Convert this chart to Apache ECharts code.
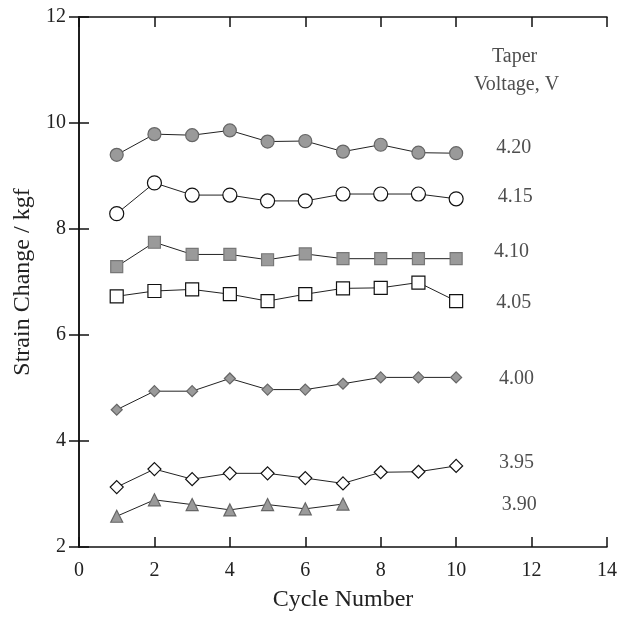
<!DOCTYPE html>
<html>
<head>
<meta charset="utf-8">
<script src="https://cdn.jsdelivr.net/npm/echarts@6/dist/echarts.min.js"></script>
<style>html,body{margin:0;padding:0;background:#fff}#c{width:623px;height:617px}</style>
</head>
<body>
<div id="c"></div>
<script>
const cycles = [1, 2, 3, 4, 5, 6, 7, 8, 9, 10];
const v420 = [9.40, 9.79, 9.77, 9.86, 9.65, 9.66, 9.46, 9.59, 9.44, 9.43];
const v415 = [8.29, 8.87, 8.64, 8.64, 8.53, 8.53, 8.66, 8.66, 8.66, 8.57];
const v410 = [7.29, 7.75, 7.52, 7.52, 7.42, 7.53, 7.44, 7.44, 7.44, 7.44];
const v405 = [6.73, 6.83, 6.86, 6.77, 6.64, 6.77, 6.88, 6.89, 6.99, 6.64];
const v400 = [4.59, 4.94, 4.94, 5.18, 4.97, 4.97, 5.08, 5.20, 5.20, 5.20];
const v395 = [3.13, 3.47, 3.28, 3.39, 3.39, 3.30, 3.20, 3.41, 3.42, 3.53];
const v390 = [2.58, 2.89, 2.80, 2.70, 2.80, 2.72, 2.81];

const annTexts = ['Taper', 'Voltage, V', '4.20', '4.15', '4.10', '4.05', '4.00', '3.95', '3.90'];
const annX = [11.55, 11.6, 11.53, 11.57, 11.47, 11.53, 11.6, 11.6, 11.67];
const annY = [11.25, 10.72, 9.54, 8.6, 7.58, 6.61, 5.18, 3.59, 2.80];

const FONT = '"Liberation Serif", "Times New Roman", serif';
const GRAY = '#9a9a9a';

function pairs(ys) { return ys.map((y, i) => [cycles[i], y]); }
function mk(name, ys, symbol, size, fill, border) {
  return {
    name, type: 'line', data: pairs(ys), symbol, symbolSize: size,
    showAllSymbol: true, animation: false,
    lineStyle: { color: '#222', width: 1 },
    itemStyle: { color: fill, borderColor: border, borderWidth: 1.2 },
    z: 3
  };
}

const axisCommon = {
  axisLine: { show: true, lineStyle: { color: '#111', width: 1.5 } },
  axisTick: { show: true, inside: true, length: 10, lineStyle: { color: '#111', width: 1.5 } },
  splitLine: { show: false }
};

const chart = echarts.init(document.getElementById('c'), null, { renderer: 'canvas' });
chart.setOption({
  backgroundColor: '#fff',
  animation: false,
  grid: { left: 79, right: 16, top: 17, bottom: 69, containLabel: false },
  xAxis: [
    Object.assign({
      type: 'value', min: 0, max: 14, interval: 2, position: 'bottom',
      name: 'Cycle Number', nameLocation: 'middle', nameGap: 41,
      nameTextStyle: { fontFamily: FONT, fontSize: 24, color: '#222' },
      axisLabel: { fontFamily: FONT, fontSize: 20, color: '#222', margin: 14 }
    }, axisCommon),
    Object.assign({
      type: 'value', min: 0, max: 14, interval: 2, position: 'top',
      axisLabel: { show: false }
    }, axisCommon)
  ],
  yAxis: [
    Object.assign({
      type: 'value', min: 2, max: 12, interval: 2, position: 'left',
      name: 'Strain Change / kgf', nameLocation: 'middle', nameGap: 44, nameRotate: 90,
      nameTextStyle: { fontFamily: FONT, fontSize: 24, color: '#222' },
      axisLabel: { fontFamily: FONT, fontSize: 20, color: '#222', margin: 13, padding: [14, 0, 0, 0] }
    }, axisCommon),
    Object.assign({
      type: 'value', min: 2, max: 12, interval: 2, position: 'right',
      axisLabel: { show: false }
    }, axisCommon)
  ],
  series: [
    mk('4.20', v420, 'circle', 13, GRAY, '#666'),
    mk('4.15', v415, 'circle', 14, '#fff', '#111'),
    mk('4.10', v410, 'rect', 12, GRAY, '#777'),
    mk('4.05', v405, 'rect', 13, '#fff', '#111'),
    mk('4.00', v400, 'diamond', 11, GRAY, '#666'),
    mk('3.95', v395, 'diamond', 13, '#fff', '#111'),
    mk('3.90', v390, 'triangle', 12, GRAY, '#666'),
    {
      type: 'scatter', symbolSize: 0, silent: true, animation: false,
      data: annTexts.map((t, i) => ({ value: [annX[i], annY[i]], name: t })),
      label: {
        show: true, position: 'inside', formatter: p => p.name,
        fontFamily: FONT, fontSize: 20, color: '#222'
      },
      z: 4
    }
  ]
});
</script>
</body>
</html>
